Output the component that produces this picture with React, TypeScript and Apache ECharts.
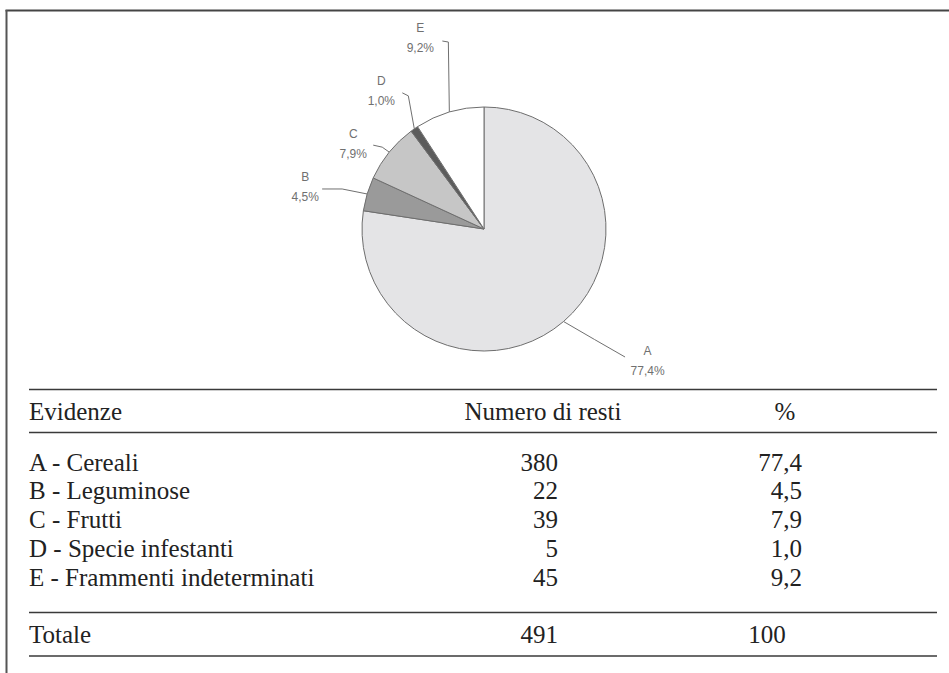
import React, { useEffect, useRef } from 'react';
import * as echarts from 'echarts';

// ---------- data ----------
const sliceLetters = ['A', 'B', 'C', 'D', 'E'];
const categories = [
  'A - Cereali',
  'B - Leguminose',
  'C - Frutti',
  'D - Specie infestanti',
  'E - Frammenti indeterminati',
];
const counts = [380, 22, 39, 5, 45];
const percentLabels = ['77,4', '4,5', '7,9', '1,0', '9,2'];
const headers = ['Evidenze', 'Numero di resti', '%'];
const totalLabel = 'Totale';
const totalCount = '491';
const totalPercent = '100';

// ---------- style / layout ----------
const W = 949;
const H = 673;
const PIE_CX = 484;
const PIE_CY = 229;
const PIE_R = 122;
const sliceColors = ['#e4e4e6', '#9a9a9a', '#c6c6c6', '#5c5c5c', '#ffffff'];
// leader-line bends and label placement, as offsets from the slice's arc point
const leaderOffsets: number[][][] = [
  [[31, 18], [61.5, 35.5]],
  [[-25, -5], [-45, -5]],
  [[-7, -5], [-16, -7]],
  [[-6, -33], [-12, -36]],
  [[-1, -70], [-7, -71]],
];
const labelOffsets: number[][] = [
  [84, 19],
  [-62, -27],
  [-36, -28],
  [-33, -58],
  [-29, -94],
];

const SERIF = 'Liberation Serif';
const SANS = 'Liberation Sans';
const TEXT_COLOR = '#222';
const LINE_COLOR = '#3a3a3a';
const TABLE_LEFT = 29;
const TABLE_RIGHT = 937;
const COUNT_RIGHT = 558;
const PCT_RIGHT = 802;
const HEADER_Y = 411.5;
const ROW_Y0 = 462;
const ROW_PITCH = 28.75;
const TOTAL_Y = 634.5;
const FS = 25;

export default function App() {
  const ref = useRef<HTMLDivElement | null>(null);

  useEffect(() => {
    document.body.style.margin = '0';
    if (!ref.current) return;
    const chart = echarts.init(ref.current, undefined, { renderer: 'svg' });
    const sum = counts.reduce((a, b) => a + b, 0);

    const arcPoint = (idx: number) => {
      let cum = 0;
      for (let i = 0; i < idx; i++) cum += counts[i];
      const frac = (cum + counts[idx] / 2) / sum;
      const ang = ((90 - 360 * frac) * Math.PI) / 180;
      return [PIE_CX + PIE_R * Math.cos(ang), PIE_CY - PIE_R * Math.sin(ang)];
    };

    const graphics: any[] = [];
    // frame
    graphics.push({
      type: 'line',
      shape: { x1: 5.5, y1: 10.5, x2: W, y2: 10.5 },
      style: { stroke: '#444', lineWidth: 2 },
      silent: true,
    });
    graphics.push({
      type: 'line',
      shape: { x1: 6.5, y1: 10, x2: 6.5, y2: H },
      style: { stroke: '#555', lineWidth: 2 },
      silent: true,
    });
    // table rules
    [389.5, 432.5, 612.5, 656].forEach((y) => {
      graphics.push({
        type: 'line',
        shape: { x1: TABLE_LEFT, y1: y, x2: TABLE_RIGHT, y2: y },
        style: { stroke: LINE_COLOR, lineWidth: 1.5 },
        silent: true,
      });
    });
    const txt = (text: string, x: number, y: number, align: string) => ({
      type: 'text',
      x,
      y,
      silent: true,
      style: {
        text,
        fill: TEXT_COLOR,
        fontSize: FS,
        fontFamily: SERIF,
        align,
        verticalAlign: 'middle',
      },
    });
    // header
    graphics.push(txt(headers[0], TABLE_LEFT, HEADER_Y, 'left'));
    graphics.push(txt(headers[1], 543, HEADER_Y, 'center'));
    graphics.push(txt(headers[2], 785, HEADER_Y, 'center'));
    // rows
    categories.forEach((c, i) => {
      const y = ROW_Y0 + i * ROW_PITCH;
      graphics.push(txt(c, TABLE_LEFT, y, 'left'));
      graphics.push(txt(String(counts[i]), COUNT_RIGHT, y, 'right'));
      graphics.push(txt(percentLabels[i], PCT_RIGHT, y, 'right'));
    });
    // total
    graphics.push(txt(totalLabel, TABLE_LEFT, TOTAL_Y, 'left'));
    graphics.push(txt(totalCount, COUNT_RIGHT, TOTAL_Y, 'right'));
    graphics.push(txt(totalPercent, 767, TOTAL_Y, 'center'));

    chart.setOption({
      animation: false,
      backgroundColor: '#ffffff',
      graphic: graphics,
      series: [
        {
          type: 'pie',
          center: [PIE_CX, PIE_CY],
          radius: PIE_R,
          startAngle: 90,
          clockwise: true,
          avoidLabelOverlap: false,
          silent: true,
          emphasis: { disabled: true },
          itemStyle: { borderColor: '#6e6e6e', borderWidth: 1 },
          data: sliceLetters.map((l, i) => ({
            name: l,
            value: counts[i],
            itemStyle: { color: sliceColors[i] },
          })),
          label: {
            show: true,
            position: 'outside',
            formatter: (p: any) =>
              `${p.name}\n${((p.value / sum) * 100).toFixed(1).replace('.', ',')}%`,
            fontFamily: SANS,
            fontSize: 12,
            color: '#707070',
            lineHeight: 20,
            align: 'center',
          },
          labelLine: {
            show: true,
            length: 10,
            length2: 10,
            lineStyle: { color: '#707070', width: 1 },
          },
          labelLayout: (p: any) => {
            const i = p.dataIndex;
            const base = arcPoint(i);
            const pts = [base].concat(
              leaderOffsets[i].map((o) => [base[0] + o[0], base[1] + o[1]])
            );
            return {
              x: base[0] + labelOffsets[i][0],
              y: base[1] + labelOffsets[i][1],
              align: 'center',
              verticalAlign: 'top',
              labelLinePoints: pts,
            };
          },
        },
      ],
    });

    return () => {
      chart.dispose();
    };
  }, []);

  return (
    <div
      ref={ref}
      style={{ position: 'absolute', left: 0, top: 0, width: W, height: H }}
    />
  );
}
